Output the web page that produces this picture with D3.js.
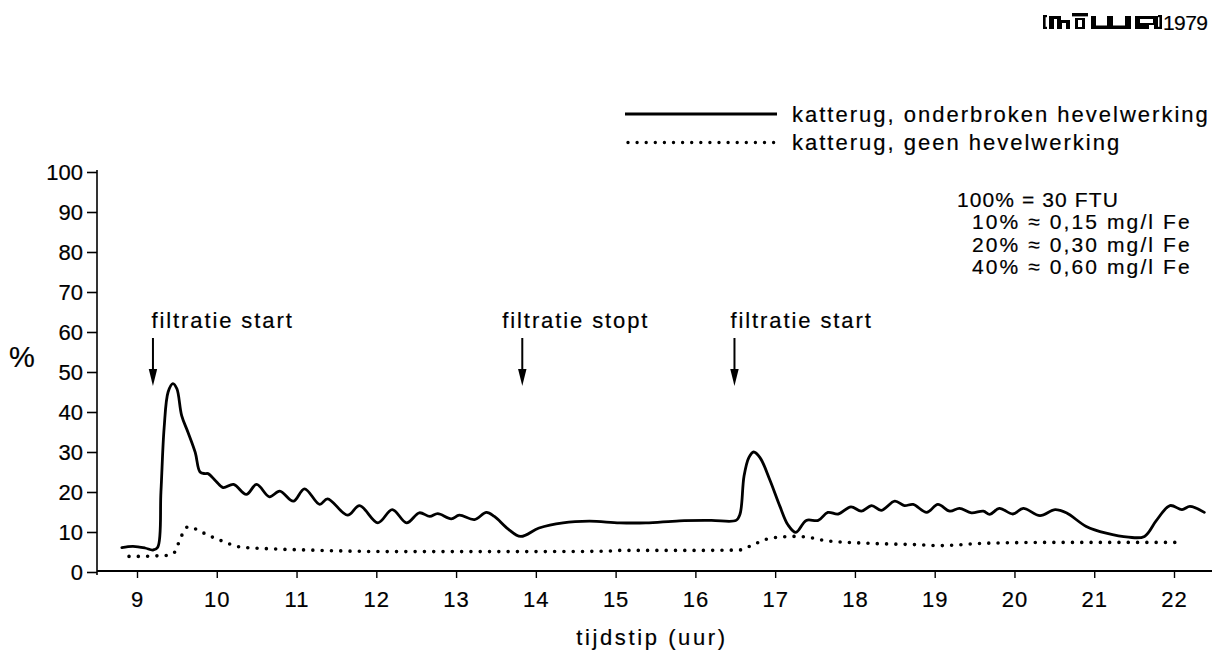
<!DOCTYPE html>
<html>
<head>
<meta charset="utf-8">
<script src="https://cdn.jsdelivr.net/npm/d3@7"></script>
<style>
  html, body { margin: 0; padding: 0; background: #fff; }
  svg { display: block; }
  text { font-family: "Liberation Sans", Arial, Helvetica, sans-serif; fill: #000; stroke: #000; stroke-width: 0.2px; }
</style>
</head>
<body>
<svg id="chart" width="1212" height="651"></svg>
<script>
// Troebelheid van het filtraat (% van 30 FTU) over de dag
const solidHours = [8.81, 8.95, 9.1, 9.2, 9.26, 9.3, 9.34, 9.39, 9.45, 9.5, 9.56, 9.64, 9.73, 9.79, 9.85, 9.89, 9.99, 10.08, 10.21, 10.37, 10.5, 10.66, 10.79, 10.96, 11.1, 11.29, 11.39, 11.64, 11.79, 12.02, 12.2, 12.38, 12.54, 12.67, 12.77, 12.94, 13.04, 13.23, 13.38, 13.48, 13.65, 13.81, 14.04, 14.34, 14.67, 15.05, 15.38, 15.8, 16.2, 16.51, 16.56, 16.61, 16.67, 16.73, 16.81, 16.93, 17.06, 17.16, 17.26, 17.39, 17.54, 17.66, 17.79, 17.95, 18.08, 18.21, 18.33, 18.5, 18.62, 18.73, 18.9, 19.04, 19.19, 19.31, 19.46, 19.61, 19.69, 19.81, 19.98, 20.11, 20.32, 20.51, 20.65, 20.9, 21.15, 21.43, 21.63, 21.78, 21.95, 22.1, 22.2, 22.38];
const solidPct   = [6.1, 6.4, 6.0, 5.5, 6.2, 20, 36, 45, 47.1, 45.8, 39.1, 34.9, 29.9, 25.0, 24.6, 24.6, 22.7, 21.1, 21.9, 19.4, 21.9, 18.8, 20.2, 17.7, 20.8, 16.9, 18.3, 14.2, 16.6, 12.3, 15.6, 12.3, 14.8, 13.9, 14.6, 13.3, 14.2, 13.1, 14.9, 13.9, 10.8, 8.9, 11.0, 12.3, 12.7, 12.3, 12.3, 12.8, 12.9, 12.9, 14.5, 24, 28.6, 30.0, 28.6, 23.2, 16.4, 11.8, 9.9, 12.9, 12.9, 14.9, 14.5, 16.3, 15.2, 16.6, 15.4, 17.7, 16.6, 16.9, 14.9, 16.9, 15.2, 15.9, 14.8, 15.2, 14.4, 15.9, 14.5, 15.9, 14.1, 15.6, 14.8, 11.4, 9.7, 8.7, 8.9, 12.9, 16.6, 15.6, 16.4, 14.9];

const dottedHours = [8.9, 9.0, 9.2, 9.4, 9.48, 9.52, 9.56, 9.64, 9.73, 9.85, 9.96, 10.06, 10.19, 10.31, 10.66, 11.13, 12.17, 13.0, 14.0, 14.9, 15.0, 16.0, 16.55, 16.72, 16.89, 17.04, 17.27, 17.41, 17.64, 18.14, 18.81, 19.06, 19.65, 20.48, 22.07];
const dottedPct   = [3.9, 3.9, 4.0, 4.2, 5.1, 7.2, 9.1, 11.3, 10.8, 9.6, 8.6, 7.8, 6.8, 6.2, 5.8, 5.5, 5.1, 5.1, 5.1, 5.2, 5.4, 5.4, 5.5, 6.8, 8.2, 8.7, 8.9, 8.7, 7.8, 7.2, 6.8, 6.6, 7.2, 7.4, 7.4];

const xTicks = [9, 10, 11, 12, 13, 14, 15, 16, 17, 18, 19, 20, 21, 22];
const yTicks = [0, 10, 20, 30, 40, 50, 60, 70, 80, 90, 100];

const eventLabels = ["filtratie start", "filtratie stopt", "filtratie start"];
const eventHours  = [9.2, 13.83, 16.49];

const seriesNames = ["katterug, onderbroken hevelwerking", "katterug, geen hevelwerking"];
const noteLines = ["100% = 30 FTU", "10% \u2248 0,15 mg/l Fe", "20% \u2248 0,30 mg/l Fe", "40% \u2248 0,60 mg/l Fe"];

const svg = d3.select("#chart");

const x = d3.scaleLinear().domain([9, 22]).range([137, 1174]);
const y = d3.scaleLinear().domain([0, 100]).range([572, 172]);
const xAxisY = 571;
const yAxisX = 97;

// --- axes ---
const yAxis = d3.axisLeft(y).tickValues(yTicks).tickSize(10).tickSizeOuter(0).tickPadding(4);
const gy = svg.append("g").attr("transform", `translate(${yAxisX},0)`).call(yAxis);
gy.select(".domain").attr("stroke", "#000").attr("stroke-width", 1.6)
  .attr("d", `M0,${y(100) - 2}V${xAxisY + 4}`);
gy.selectAll(".tick line").attr("stroke", "#000").attr("stroke-width", 1.6);
gy.selectAll(".tick text").style("font-size", "22px").attr("dy", "0.36em");

const xAxis = d3.axisBottom(x).tickValues(xTicks).tickSize(7).tickSizeOuter(0).tickPadding(13)
  .tickFormat(d3.format("d"));
const gx = svg.append("g").attr("transform", `translate(0,${xAxisY})`).call(xAxis);
gx.select(".domain").attr("stroke", "#000").attr("stroke-width", 2)
  .attr("d", `M${yAxisX},0H1212`);
gx.selectAll(".tick line").attr("stroke", "#000").attr("stroke-width", 1.4);
gx.selectAll(".tick text").style("font-size", "22px").style("letter-spacing", "1px");

// axis titles
svg.append("text").attr("x", 22).attr("y", 367).attr("text-anchor", "middle")
  .style("font-size", "29px").text("%");
svg.append("text").attr("x", 652).attr("y", 645).attr("text-anchor", "middle")
  .style("font-size", "22px").style("letter-spacing", "2.6px").text("tijdstip (uur)");

// --- series ---
const solidData = solidHours.map((h, i) => [h, solidPct[i]]);
const dottedData = dottedHours.map((h, i) => [h, dottedPct[i]]);

const line = d3.line().x(d => x(d[0])).y(d => y(d[1])).curve(d3.curveCatmullRom.alpha(0.5));
const lineMono = d3.line().x(d => x(d[0])).y(d => y(d[1])).curve(d3.curveMonotoneX);

svg.append("path").datum(dottedData).attr("d", lineMono)
  .attr("fill", "none").attr("stroke", "#000").attr("stroke-width", 3.6)
  .attr("stroke-linecap", "round").attr("stroke-dasharray", "0 9.3");

svg.append("path").datum(solidData).attr("d", line)
  .attr("fill", "none").attr("stroke", "#000").attr("stroke-width", 2.8)
  .attr("stroke-linejoin", "round").attr("stroke-linecap", "round");

// --- event arrows ---
const textLeftOffset = [-1.5, -20, -4];
const ev = svg.append("g");
eventHours.forEach((h, i) => {
  const ax = x(h);
  ev.append("line").attr("x1", ax).attr("x2", ax).attr("y1", 338).attr("y2", 372)
    .attr("stroke", "#000").attr("stroke-width", 2);
  ev.append("path").attr("d", `M${ax - 4.2},369L${ax + 4.2},369L${ax},386Z`).attr("fill", "#000");
  ev.append("text").attr("x", ax + textLeftOffset[i]).attr("y", 328)
    .style("font-size", "22px").style("letter-spacing", "1.9px").text(eventLabels[i]);
});

// --- legend ---
const lg = svg.append("g");
lg.append("line").attr("x1", 625).attr("x2", 777).attr("y1", 114).attr("y2", 114)
  .attr("stroke", "#000").attr("stroke-width", 3);
lg.append("line").attr("x1", 628).attr("x2", 774).attr("y1", 142.5).attr("y2", 142.5)
  .attr("stroke", "#000").attr("stroke-width", 3.4).attr("stroke-linecap", "round")
  .attr("stroke-dasharray", "0 9.1");
seriesNames.forEach((s, i) => {
  lg.append("text").attr("x", 792).attr("y", 122 + i * 27.5)
    .style("font-size", "22px").style("letter-spacing", "2px").text(s);
});

// --- conversion note ---
noteLines.forEach((s, i) => {
  svg.append("text").attr("x", i === 0 ? 957 : 972).attr("y", 206.5 + i * 22.5)
    .style("font-size", "21px").style("letter-spacing", i === 0 ? "1.1px" : "2.1px").text(s);
});

// --- logo: block-letter "kiwa" mark ---
const logo = svg.append("g").attr("fill", "#000");
const logoBlack = [
  [1043, 15, 2.6, 14], [1043, 15, 4, 2.2], [1043, 26.8, 4, 2.2],        // left bracket
  [1049, 16, 21, 13],                                                     // k
  [1072, 13, 16, 3.4], [1075, 18, 10, 11],                                // i
  [1091, 16, 40, 13],                                                     // w
  [1135, 16, 23, 13],                                                     // a
  [1159.4, 15, 2.6, 14], [1158, 15, 4, 2.2], [1158, 26.8, 4, 2.2]        // right bracket
];
const logoWhite = [
  [1054, 19, 3, 10], [1061, 16, 9, 4], [1062, 23, 4, 6],                 // k counters
  [1078, 20, 4, 7],                                                       // i counter
  [1096, 16, 11, 9.5], [1113, 16, 12, 9.5],                               // w slits
  [1140, 19, 13, 4], [1149, 25, 5, 4]                                     // a counters
];
logoBlack.forEach(r => logo.append("rect").attr("x", r[0]).attr("y", r[1]).attr("width", r[2]).attr("height", r[3]));
logoWhite.forEach(r => logo.append("rect").attr("x", r[0]).attr("y", r[1]).attr("width", r[2]).attr("height", r[3]).attr("fill", "#fff"));
svg.append("text").attr("x", 1163).attr("y", 29.5).style("font-size", "21px")
  .style("letter-spacing", "-0.6px").text("1979");
</script>
</body>
</html>
